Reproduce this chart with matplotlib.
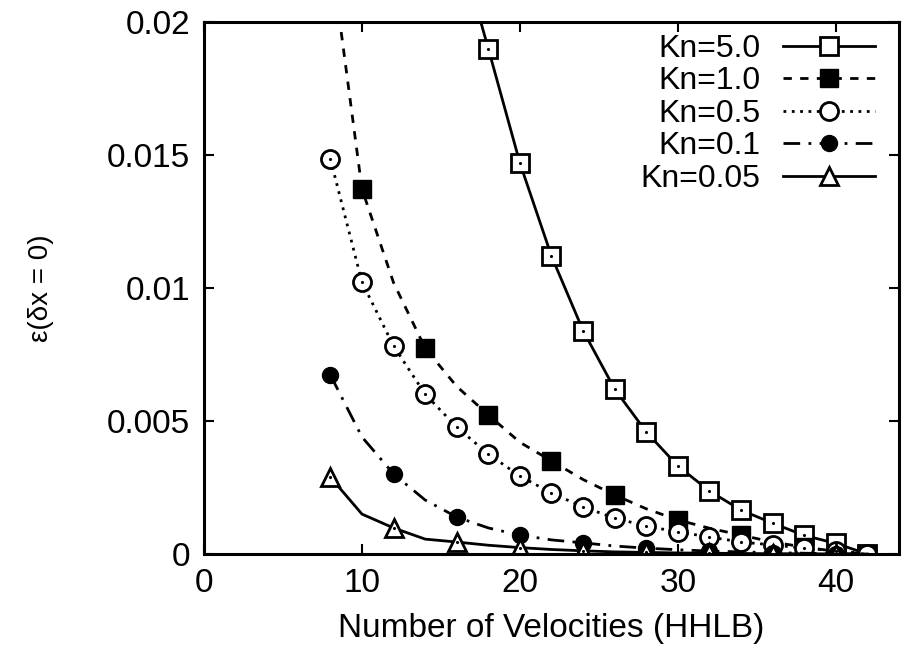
import numpy as np
import matplotlib
matplotlib.use('Agg')
import matplotlib.pyplot as plt

plt.rcParams['font.family'] = ['Liberation Sans', 'DejaVu Sans']

# data (x = number of velocities)
x_kn5 = [16, 18, 20, 22, 24, 26, 28, 30, 32, 34, 36, 38, 40, 42]
y_kn5 = [0.0232, 0.0190, 0.0147, 0.0112, 0.0084, 0.0062, 0.00459, 0.00331,
         0.00237, 0.00165, 0.00116, 0.00070, 0.00040, 0.0]

x_all = [8, 10, 12, 14, 16, 18, 20, 22, 24, 26, 28, 30, 32, 34, 36, 38, 40, 42]
y_kn1 = [0.0227, 0.01372, 0.0102, 0.00774, 0.0063, 0.00523, 0.0042, 0.0035,
         0.0028, 0.00222, 0.0017, 0.00128, 0.00097, 0.00071, 0.00045, 0.00026,
         0.0001, 0.0]
y_kn05 = [0.01485, 0.01022, 0.00782, 0.00601, 0.00477, 0.00376, 0.00293,
          0.00229, 0.00177, 0.00135, 0.00105, 0.00083, 0.00064, 0.00045,
          0.00034, 0.00022, 0.00012, 0.0]
y_kn01 = [0.00673, 0.0044, 0.00301, 0.00203, 0.00139, 0.00098, 0.00071,
          0.00053, 0.00042, 0.0003, 0.00022, 0.00016, 0.00011, 0.00008,
          0.00005, 0.00003, 0.00001, 0.0]
y_kn005 = [0.00289, 0.0015, 0.00098, 0.00056, 0.00045, 0.00033, 0.00024,
           0.00017, 0.00012, 0.00008, 0.00006, 0.00004, 0.00003, 0.00002,
           0.00001, 0.00001, 0.0, 0.0]

labels = ['Kn=5.0', 'Kn=1.0', 'Kn=0.5', 'Kn=0.1', 'Kn=0.05']
yticks = [0, 0.005, 0.01, 0.015, 0.02]
ytick_labels = ['0', '0.005', '0.01', '0.015', '0.02']
xticks = [0, 10, 20, 30, 40]

fs = 24
lw = 2.0
mew = 2.0

fig = plt.figure(figsize=(9.17, 6.53), dpi=100)
ax = fig.add_axes([0.2225, 0.1516, 0.7578, 0.8147])

# Kn=5.0 open squares, solid
ax.plot(x_kn5, y_kn5, '-', color='black', lw=lw, marker='s', ms=13.5,
        mfc='white', mec='black', mew=mew, label=labels[0])
# Kn=1.0 filled squares, dashed
ax.plot(x_all, y_kn1, color='black', lw=lw, ls=(0, (3, 3)), marker='s', ms=12.5,
        mfc='black', mec='black', markevery=(1, 2), label=labels[1])
# Kn=0.5 open circles, dotted
ax.plot(x_all, y_kn05, color='black', lw=lw, ls=(0, (1, 2)), marker='o', ms=13,
        mfc='white', mec='black', mew=mew, markevery=(0, 1), label=labels[2])
# Kn=0.1 filled circles, dash-dot
ax.plot(x_all, y_kn01, color='black', lw=lw, ls=(0, (6, 3, 1, 3)), marker='o',
        ms=11.5, mfc='black', mec='black', markevery=(0, 2), label=labels[3])
# Kn=0.05 open triangles, solid
ax.plot(x_all, y_kn005, '-', color='black', lw=lw, marker='^', ms=13,
        mfc='white', mec='black', mew=mew, markevery=(0, 2), label=labels[4])

# gnuplot-style centre dots on open symbols
ax.plot(x_kn5, y_kn5, ls='none', marker='.', ms=2.5, color='black')
ax.plot(x_all, y_kn05, ls='none', marker='.', ms=2.5, color='black')
ax.plot(x_all[::2], y_kn005[::2], ls='none', marker='.', ms=2.5, color='black')

ax.set_xlim(0, 44)
ax.set_ylim(0, 0.02)
ax.set_xticks(xticks)
ax.set_xticklabels([str(v) for v in xticks])
ax.set_yticks(yticks)
ax.set_yticklabels(ytick_labels)
ax.tick_params(direction='in', length=7, width=1.5, labelsize=fs,
               top=True, right=True, pad=10)
for s in ax.spines.values():
    s.set_linewidth(2.2)

ax.set_xlabel('Number of Velocities (HHLB)', fontsize=fs, labelpad=10)
ax.set_ylabel('ε(δx = 0)', fontsize=20, labelpad=38)

ax.legend(loc='upper right', bbox_to_anchor=(0.966, 0.978), frameon=False,
          markerfirst=False, numpoints=1, fontsize=23, handlelength=2.9,
          handletextpad=0.7, labelspacing=0.08, borderpad=0, borderaxespad=0)

fig.savefig('out.png', dpi=100)
